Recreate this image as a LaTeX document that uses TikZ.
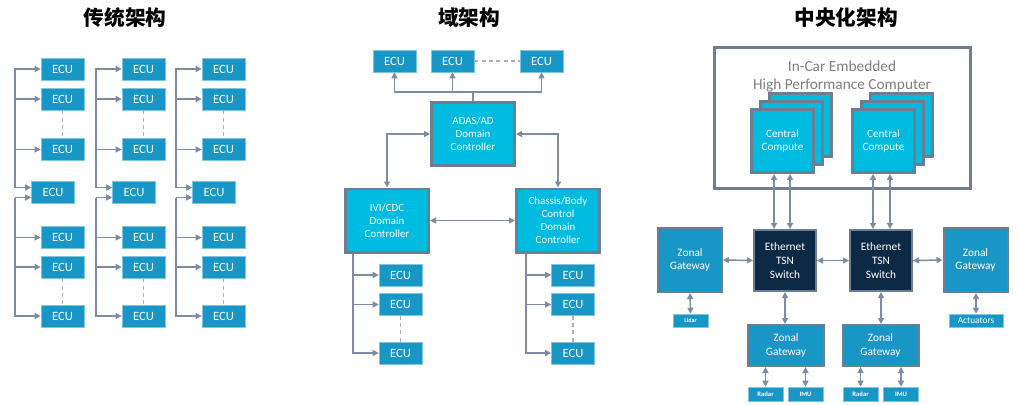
\documentclass[tikz,border=0pt]{standalone}
\usepackage{fontspec}
\setmainfont{Carlito}
\newfontfamily\cjk{Noto Sans CJK SC}
\usetikzlibrary{arrows.meta,calc}
\definecolor{ecub}{HTML}{1896C6}
\definecolor{cyanb}{HTML}{00BBE0}
\definecolor{navy}{HTML}{0C2945}
\definecolor{bord}{HTML}{6E7E92}
\definecolor{ln}{HTML}{7D8CA2}
\definecolor{dsh}{HTML}{A6B2C2}
\definecolor{gtxt}{HTML}{7F7F7F}
\tikzset{
  box/.style={rectangle, inner sep=0pt, text=white, align=center},
  ecu/.style={box, fill=ecub, draw=ecub!55!white, line width=0.4pt, minimum width=32.25pt, minimum height=16.5pt, font=\fontsize{9.5}{11}\selectfont},
  dom/.style={box, fill=cyanb, draw=bord, line width=2.2pt, minimum width=62.3pt, minimum height=47.3pt, font=\fontsize{8.2}{9.8}\selectfont},
  hpc/.style={box, draw=bord, line width=2.3pt, fill=white, minimum width=192pt, minimum height=105.7pt},
  cc/.style={box, fill=cyanb, draw=bord, line width=1.8pt, minimum width=46.75pt, minimum height=47.5pt, font=\fontsize{8.4}{9.8}\selectfont},
  sw/.style={box, fill=navy, draw=bord, line width=1.5pt, minimum width=46.5pt, minimum height=45.75pt, font=\fontsize{8.5}{10.3}\selectfont},
  zg/.style={box, fill=ecub, draw=bord, line width=1.5pt, minimum width=48pt, minimum height=48pt, font=\fontsize{8.5}{10.3}\selectfont},
  zgb/.style={zg, minimum width=57pt, minimum height=30.75pt},
  sens/.style={box, fill=ecub, draw=ecub!55!white, line width=0.4pt, minimum width=26.25pt, minimum height=10.5pt, font=\fontsize{5}{6}\selectfont\bfseries},
  ttl/.style={font=\cjk\bfseries\fontsize{15.5}{18}\selectfont, text=black},
  line/.style={draw=ln, line width=1.1pt},
  arr/.style={line, -{Triangle[length=4.5pt,width=4.5pt]}},
  darr/.style={line, {Triangle[length=4.5pt,width=4.5pt]}-{Triangle[length=4.5pt,width=4.5pt]}},
  dline/.style={draw=dsh, line width=0.9pt, dash pattern=on 3pt off 2.5pt},
}
\begin{document}
\begin{tikzpicture}[x=0.75pt,y=-0.75pt]
\fill[white] (0,0) rectangle (1019,404);
\useasboundingbox (0,0) rectangle (1019,404);

% titles
\node[ttl] (t1) at (125,18) {传统架构};
\node[ttl] (t2) at (469,18) {域架构};
\node[ttl] (t3) at (846,18) {中央化架构};

% ---------- traditional ----------
\foreach \i/\dx in {1/0,2/81,3/161}{
  \node[ecu] (a\i) at (62.5+\dx,69) {ECU};
  \node[ecu] (b\i) at (62.5+\dx,99) {ECU};
  \node[ecu] (c\i) at (62.5+\dx,149.5) {ECU};
  \node[ecu] (m\i) at (53+\dx,192.5) {ECU};
  \node[ecu] (d\i) at (62.5+\dx,237.5) {ECU};
  \node[ecu] (e\i) at (62.5+\dx,267) {ECU};
  \node[ecu] (f\i) at (62.5+\dx,316) {ECU};
  \coordinate (bus\i) at (15+\dx,0);
  \coordinate (mu\i) at ($(m\i.west)+(0,-5)$);
  \coordinate (md\i) at ($(m\i.west)+(0,5)$);
  \draw[arr] (bus\i |- mu\i) |- (a\i.west);
  \draw[arr] (bus\i |- mu\i) -- (mu\i);
  \draw[arr] (bus\i |- b\i) -- (b\i.west);
  \draw[arr] (bus\i |- c\i) -- (c\i.west);
  \draw[arr] (bus\i |- md\i) -- (md\i);
  \draw[arr] (bus\i |- md\i) |- (f\i.west);
  \draw[arr] (bus\i |- d\i) -- (d\i.west);
  \draw[arr] (bus\i |- e\i) -- (e\i.west);
  \draw[dline] (b\i.south) -- (c\i.north);
  \draw[dline] (e\i.south) -- (f\i.north);
}

% ---------- domain ----------
\node[ecu] (u1) at (394.5,61) {ECU};
\node[ecu] (u2) at (452.5,61) {ECU};
\node[ecu] (u3) at (541.5,61) {ECU};
\draw[dline] (u2.east) -- (u3.west);
\node[dom] (adas) at (473,134) {ADAS/AD\\Domain\\Controller};
\node[dom] (ivi) at (387,220.5) {IVI/CDC\\Domain\\Controller};
\node[dom] (chs) at (558,220.5) {Chassis/Body\\Control\\Domain\\Controller};
\coordinate (hj) at (473,92);
\draw[line] (adas.north) -- (hj);
\draw[arr] (hj) -| (u1.south);
\draw[arr] (hj) -| (u2.south);
\draw[arr] (hj) -| (u3.south);
\draw[darr] (adas.west) -| (ivi.north);
\draw[darr] (adas.east) -| (chs.north);
\draw[darr] (ivi.east) -- (chs.west);
\foreach \n/\bx/\ex in {i/353/400.5, k/526/573}{
  \node[ecu] (\n1) at (\ex,275) {ECU};
  \node[ecu] (\n2) at (\ex,304.5) {ECU};
  \node[ecu] (\n3) at (\ex,353) {ECU};
  \coordinate (\n bus) at (\bx,0);
  \draw[dline] (\n2.south) -- (\n3.north);
  \draw[arr] (\n bus |- \n1) -- (\n1.west);
  \draw[arr] (\n bus |- \n2) -- (\n2.west);
}
\draw[arr] (ibus |- ivi.south) |- (i3.west);
\draw[arr] (kbus |- chs.south) |- (k3.west);

% ---------- centralized ----------
\node[hpc] (hpc) at (842.5,118) {};
\node[text=gtxt, align=center, font=\fontsize{11.5}{13.5}\selectfont] (hpct) at (842,76) {In-Car Embedded\\High Performance Computer};
\foreach \n/\cx in {1/782.5, 2/883.5}{
  \node[cc] (cc\n c) at (\cx+18,125) {};
  \node[cc] (cc\n b) at (\cx+9,133) {};
  \node[cc] (cc\n) at (\cx,141) {Central\\Compute};
}
\node[sw] (sw1) at (785,260.5) {Ethernet\\TSN\\Switch};
\node[sw] (sw2) at (881,260.5) {Ethernet\\TSN\\Switch};
\node[zg] (zl) at (690,260) {Zonal\\Gateway};
\node[zg] (zr) at (975.5,260) {Zonal\\Gateway};
\node[zgb] (zb1) at (786,345.5) {Zonal\\Gateway};
\node[zgb] (zb2) at (880.5,345.5) {Zonal\\Gateway};
\node[sens, minimum height=9.75pt, font=\fontsize{4.5}{5}\selectfont\bfseries] (lidar) at (690.5,320.5) {Lidar};
\node[sens, minimum width=40.5pt, minimum height=9.75pt, font=\fontsize{7}{8}\selectfont] (act) at (976,320.5) {Actuators};
\node[sens] (r1) at (765.5,394) {Radar};
\node[sens] (m1i) at (805.5,394) {IMU};
\node[sens] (r2) at (860.5,394) {Radar};
\node[sens] (m2i) at (901,394) {IMU};

\coordinate (p1) at (774,0);
\coordinate (p2) at (790,0);
\coordinate (p3) at (873,0);
\coordinate (p4) at (890,0);
\draw[darr] (p1 |- cc1.south) -- (p1 |- sw1.north);
\draw[darr] (p2 |- cc1.south) -- (p2 |- sw1.north);
\draw[darr] (p3 |- cc2.south) -- (p3 |- sw2.north);
\draw[darr] (p4 |- cc2.south) -- (p4 |- sw2.north);
\draw[darr] (zl.east) -- (sw1.west);
\draw[darr] (sw1.east) -- (sw2.west);
\draw[darr] (sw2.east) -- (zr.west);
\draw[darr] (zl.south) -- (lidar.north);
\draw[darr] (act.north |- zr.south) -- (act.north);
\draw[darr] (sw1.south) -- (sw1.south |- zb1.north);
\draw[darr] (sw2.south) -- (sw2.south |- zb2.north);
\draw[darr] (r1.north |- zb1.south) -- (r1.north);
\draw[darr] (m1i.north |- zb1.south) -- (m1i.north);
\draw[darr] (r2.north |- zb2.south) -- (r2.north);
\draw[darr] (m2i.north |- zb2.south) -- (m2i.north);
\end{tikzpicture}
\end{document}
